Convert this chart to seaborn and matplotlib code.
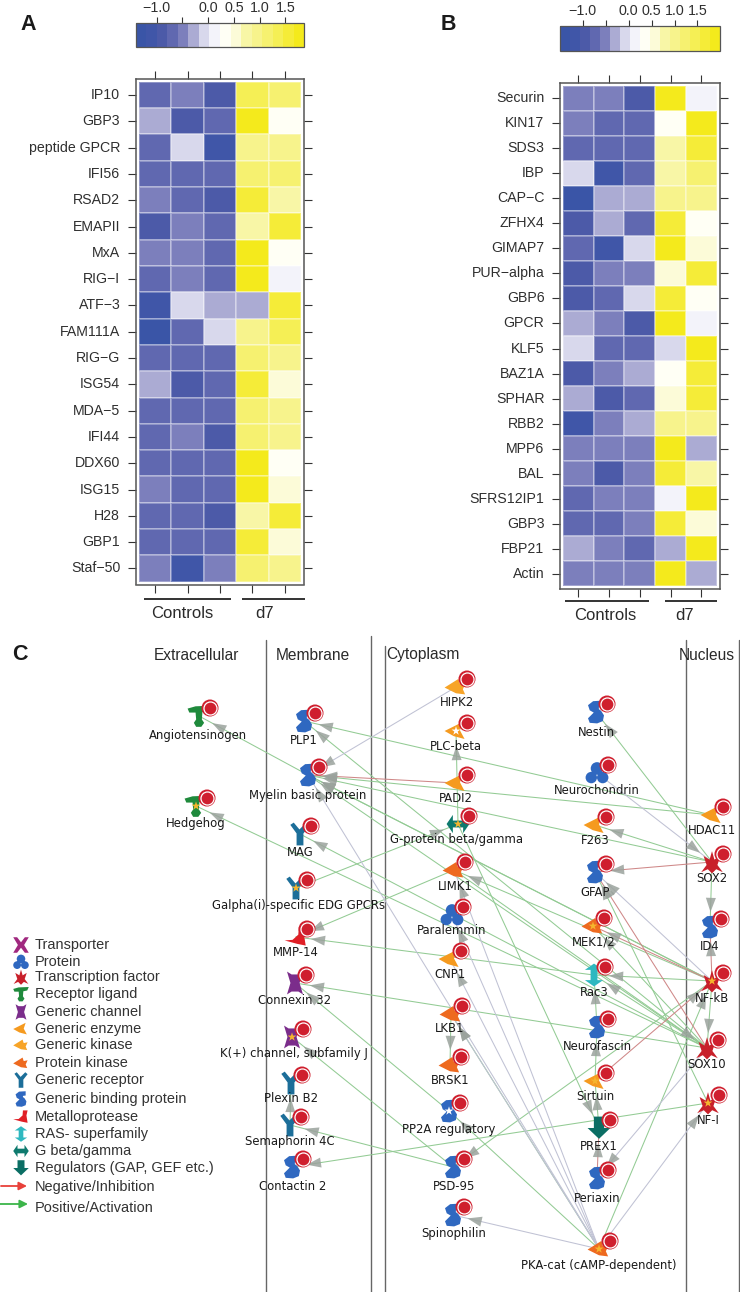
import numpy as np
import pandas as pd
import matplotlib
matplotlib.use('Agg')
import matplotlib.pyplot as plt
from matplotlib.colors import ListedColormap
from matplotlib.path import Path
import seaborn as sns

# panel A
a_genes = ['IP10', 'GBP3', 'peptide GPCR', 'IFI56', 'RSAD2', 'EMAPII', 'MxA', 'RIG−I', 'ATF−3', 'FAM111A',
           'RIG−G', 'ISG54', 'MDA−5', 'IFI44', 'DDX60', 'ISG15', 'H28', 'GBP1', 'Staf−50']
a_controls = [[-0.69, -0.49, -0.90], [-0.28, -0.90, -0.69], [-0.69, -0.08, -1.10], [-0.69, -0.69, -0.69],
              [-0.49, -0.69, -0.90], [-0.90, -0.49, -0.69], [-0.49, -0.49, -0.69], [-0.69, -0.49, -0.69],
              [-1.10, -0.08, -0.28], [-1.31, -0.69, -0.08], [-0.69, -0.69, -0.69], [-0.28, -0.90, -0.69],
              [-0.69, -0.69, -0.69], [-0.69, -0.49, -0.90], [-0.69, -0.69, -0.69], [-0.49, -0.69, -0.69],
              [-0.69, -0.69, -0.90], [-0.69, -0.69, -0.69], [-0.49, -1.10, -0.49]]
a_d7 = [[1.30, 1.25], [1.77, 0.33], [0.95, 0.95], [1.15, 1.15], [1.56, 0.74], [0.74, 1.56], [1.77, 0.33],
        [1.77, 0.13], [-0.28, 1.56], [0.95, 1.36], [1.15, 0.95], [1.56, 0.54], [1.15, 0.95], [1.15, 0.95],
        [1.77, 0.33], [1.77, 0.54], [0.74, 1.56], [1.56, 0.54], [1.15, 0.95]]

# panel B
b_genes = ['Securin', 'KIN17', 'SDS3', 'IBP', 'CAP−C', 'ZFHX4', 'GIMAP7', 'PUR−alpha', 'GBP6', 'GPCR', 'KLF5',
           'BAZ1A', 'SPHAR', 'RBB2', 'MPP6', 'BAL', 'SFRS12IP1', 'GBP3', 'FBP21', 'Actin']
b_controls = [[-0.52, -0.52, -0.96], [-0.52, -0.74, -0.74], [-0.74, -0.74, -0.74], [-0.08, -1.17, -0.74],
              [-1.39, -0.30, -0.30], [-0.96, -0.30, -0.74], [-0.74, -1.17, -0.08], [-0.96, -0.52, -0.52],
              [-0.96, -0.74, -0.08], [-0.30, -0.52, -0.96], [-0.08, -0.74, -0.74], [-0.96, -0.52, -0.30],
              [-0.30, -0.96, -0.74], [-1.17, -0.52, -0.30], [-0.52, -0.52, -0.52], [-0.52, -0.96, -0.52],
              [-0.74, -0.52, -0.52], [-0.74, -0.74, -0.52], [-0.30, -0.52, -0.74], [-0.52, -0.52, -0.52]]
b_d7 = [[1.88, 0.14], [0.35, 1.88], [0.79, 1.66], [0.79, 1.23], [1.01, 1.01], [1.66, 0.35], [1.88, 0.57],
        [0.57, 1.66], [1.66, 0.35], [1.88, 0.14], [-0.08, 1.88], [0.35, 1.66], [0.57, 1.66], [1.01, 1.01],
        [1.88, -0.30], [1.66, 0.79], [0.14, 1.88], [1.66, 0.57], [-0.30, 1.88], [1.88, -0.30]]

sample_names = ['C1', 'C2', 'C3', 'd7a', 'd7b']
level_colors = ['#3a55a7', '#4056a8', '#4c5aa8', '#6068b0', '#7c7fbc', '#ababd3', '#d8d8ec', '#f3f3fa',
                '#fffff5', '#fcfbd8', '#f8f6a6', '#f7f38c', '#f6f170', '#f5ef55', '#f5ec38', '#f4ea1c']
cbar_ticks = [-1.0, -0.5, 0.0, 0.5, 1.0, 1.5]
cbar_labels = ['−1.0', '', '0.0', '0.5', '1.0', '1.5']

# panel C nodes: dot position, label position, icon type
node_names = ['Angiotensinogen', 'Hedgehog', 'PLP1', 'Myelin basic protein', 'MAG', 'Galpha(i)-specific EDG GPCRs',
              'MMP-14', 'Connexin 32', 'K(+) channel, subfamily J', 'Plexin B2', 'Semaphorin 4C', 'Contactin 2',
              'HIPK2', 'PLC-beta', 'PADI2', 'G-protein beta/gamma', 'LIMK1', 'Paralemmin', 'CNP1', 'LKB1', 'BRSK1',
              'PP2A regulatory', 'PSD-95', 'Spinophilin', 'Nestin', 'Neurochondrin', 'F263', 'GFAP', 'MEK1/2',
              'Rac3', 'Neurofascin', 'Sirtuin', 'PREX1', 'Periaxin', 'PKA-cat (cAMP-dependent)', 'HDAC11', 'SOX2',
              'ID4', 'NF-kB', 'SOX10', 'NF-I']
node_x = [210, 207, 315, 319, 311, 307, 307, 306, 303, 302, 301, 303,
          467, 467, 467, 469, 465, 463, 461, 462, 461, 460, 464, 464,
          607, 608, 606, 606, 604, 605, 608, 606, 610, 608, 610, 723, 723, 721, 723, 718, 719]
node_y = [708, 798, 713, 767, 826, 880, 929, 975, 1029, 1075, 1117, 1159,
          679, 723, 775, 816, 862, 907, 951, 1006, 1057, 1103, 1159, 1207,
          704, 765, 817, 864, 918, 967, 1019, 1073, 1120, 1170, 1241, 807, 854, 919, 973, 1040, 1095]
label_x = [198, 196, 304, 308, 300, 298, 296, 295, 294, 291, 290, 293,
           457, 456, 456, 457, 455, 452, 450, 450, 450, 449, 454, 454,
           596, 597, 595, 595, 594, 594, 597, 595, 599, 597, 599, 712, 712, 710, 712, 707, 708]
label_y = [735, 824, 741, 795, 852, 906, 952, 1000, 1054, 1099, 1142, 1187,
           702, 747, 798, 840, 886, 931, 974, 1029, 1080, 1130, 1187, 1234,
           732, 790, 840, 892, 942, 993, 1047, 1097, 1146, 1198, 1265, 830, 879, 946, 998, 1065, 1121]
node_kind = ['ligand', 'ligand', 'binding', 'binding', 'receptor', 'receptor', 'protease', 'channel', 'channel',
             'receptor', 'receptor', 'binding', 'gkinase', 'enzyme', 'enzyme', 'gbg', 'pkinase', 'protein', 'enzyme',
             'pkinase', 'pkinase', 'binding', 'binding', 'binding', 'binding', 'protein', 'enzyme', 'binding',
             'pkinase', 'ras', 'binding', 'enzyme', 'regulator', 'binding', 'pkinase', 'enzyme', 'tf', 'binding',
             'tf', 'tf', 'tf']
starred = ['Hedgehog', 'Galpha(i)-specific EDG GPCRs', 'K(+) channel, subfamily J', 'G-protein beta/gamma', 'MEK1/2',
           'Sirtuin', 'PKA-cat (cAMP-dependent)', 'NF-kB', 'NF-I']
white_starred = ['PLC-beta', 'PP2A regulatory']

PKA = 'PKA-cat (cAMP-dependent)'
MBP = 'Myelin basic protein'
GP = 'G-protein beta/gamma'
edges_pos = [('HDAC11', 'PLP1'), ('HDAC11', MBP), ('SOX10', 'PLP1'), ('SOX2', 'F263'), ('SOX2', MBP),
             ('SOX2', 'ID4'), ('SOX2', 'Nestin'), ('Galpha(i)-specific EDG GPCRs', GP), (GP, 'PLC-beta'),
             ('LIMK1', 'MMP-14'), ('SOX10', 'MAG'), (MBP, 'Angiotensinogen'), ('SOX10', 'Hedgehog'),
             ('Rac3', 'MMP-14'), ('SOX10', 'Connexin 32'), ('PP2A regulatory', 'Connexin 32'),
             ('PSD-95', 'K(+) channel, subfamily J'), ('PSD-95', 'Semaphorin 4C'), ('NF-I', 'Contactin 2'),
             ('Semaphorin 4C', 'Plexin B2'), ('NF-kB', 'PSD-95'), ('LKB1', 'BRSK1'), (PKA, 'LKB1'),
             (PKA, 'PP2A regulatory'), (PKA, 'NF-kB'), (GP, 'PREX1'), ('PREX1', 'Sirtuin'),
             ('Sirtuin', 'Neurofascin'), ('Neurofascin', 'Rac3'), ('NF-kB', 'Rac3'), ('NF-kB', 'SOX10'),
             ('NF-I', 'GFAP'), ('NF-kB', MBP), ('NF-kB', MBP), ('SOX10', MBP), ('SOX10', 'Rac3'),
             ('LIMK1', 'SOX10'), ('SOX10', 'MEK1/2'), ('NF-kB', 'LIMK1')]
edges_neg = [('PADI2', MBP), ('SOX2', 'GFAP'), ('Periaxin', 'PREX1'), ('NF-kB', 'ID4'), ('Sirtuin', 'NF-kB'),
             ('SOX10', 'GFAP'), ('NF-kB', 'MEK1/2')]
edges_neu = [('HIPK2', MBP), ('Neurochondrin', 'SOX2'), (PKA, 'CNP1'), (PKA, 'LKB1'), (PKA, 'LIMK1'),
             (PKA, 'Paralemmin'), (PKA, MBP), (PKA, 'Spinophilin'), (PKA, 'NF-I'), ('SOX10', 'Periaxin'),
             ('NF-kB', 'GFAP')]

legend_names = ['Transporter', 'Protein', 'Transcription factor', 'Receptor ligand', 'Generic channel',
                'Generic enzyme', 'Generic kinase', 'Protein kinase', 'Generic receptor', 'Generic binding protein',
                'Metalloprotease', 'RAS- superfamily', 'G beta/gamma', 'Regulators (GAP, GEF etc.)']
legend_kinds = ['transporter', 'protein', 'tf', 'ligand', 'channel', 'enzyme', 'gkinase', 'pkinase', 'receptor',
                'binding', 'protease', 'ras', 'gbg', 'regulator']
legend_y = [945, 962, 977, 994, 1012, 1029, 1045, 1063, 1080, 1099, 1117, 1134, 1151, 1168]

column_names = ['Extracellular', 'Membrane', 'Cytoplasm', 'Nucleus']
column_x = [196, 313, 423, 707]
column_y = [655, 656, 655, 655]
divider_x = [266, 371, 385, 686, 739]
divider_top = [640, 636, 646, 640, 640]


def poly(pts):
    return Path(np.array(pts + [pts[0]], float), closed=True)


kind_marks = {
    'transporter': poly([(-1, 1), (-.5, 1), (0, .35), (.5, 1), (1, 1), (.4, 0), (1, -1), (.5, -1), (0, -.35),
                         (-.5, -1), (-1, -1), (-.4, 0)]),
    'protein': Path.make_compound_path(Path.circle((-.5, -.4), .5), Path.circle((.5, -.4), .5),
                                       Path.circle((0, .4), .55)),
    'tf': poly([(-.9, -.85), (-.45, -.25), (-.7, .5), (-.2, .2), (0, .9), (.2, .2), (.7, .5), (.45, -.25),
                (.9, -.85), (.35, -.6), (0, -.95), (-.35, -.6)]),
    'ligand': poly([(-1, .65), (-.3, .85), (1, .9), (.8, .45), (.3, .35), (.25, -.3), (.45, -.6), (.2, -.95),
                    (-.25, -.95), (-.45, -.6), (-.25, -.3), (-.3, .3), (-.85, .3)]),
    'channel': poly([(-.7, 1), (-.3, .75), (.3, .75), (.7, 1), (.4, 0), (.7, -1), (.3, -.75), (-.3, -.75),
                     (-.7, -1), (-.4, 0)]),
    'enzyme': poly([(-1, 0), (.6, .8), (.35, .05), (.75, -.7), (-.2, -.45)]),
    'gkinase': poly([(-1, -.05), (.2, .7), (.35, .25), (.85, .35), (.6, -.2), (.8, -.65), (0, -.55)]),
    'pkinase': poly([(-1, -.05), (.2, .7), (.35, .25), (.85, .35), (.6, -.2), (.8, -.65), (0, -.55)]),
    'receptor': poly([(-.85, .8), (-.55, 1), (-.05, .4), (.55, 1), (.85, .75), (.3, .05), (.3, -1), (-.3, -1),
                      (-.3, .05)]),
    'binding': poly([(.6, 1), (-.25, .95), (-.7, .6), (-.55, .15), (-.2, -.05), (-.35, -.2), (-.7, -.55),
                     (-.55, -.95), (.1, -1), (.6, -.8), (.7, -.3), (.45, .1), (.25, .25), (.25, .4), (.6, .45)]),
    'protease': poly([(-1, -.3), (-.3, -.25), (.2, .2), (.25, .85), (.85, .85), (.7, .2), (.85, -.75), (.1, -.6)]),
    'ras': poly([(0, 1), (.8, .45), (.3, .45), (.3, -.45), (.8, -.45), (0, -1), (-.8, -.45), (-.3, -.45),
                 (-.3, .45), (-.8, .45)]),
    'gbg': poly([(1, 0), (.45, .8), (.45, .3), (-.45, .3), (-.45, .8), (-1, 0), (-.45, -.8), (-.45, -.3),
                 (.45, -.3), (.45, -.8)]),
    'regulator': poly([(-.45, 1), (.45, 1), (.45, 0), (1, 0), (0, -.95), (-1, 0), (-.45, 0)]),
}
kind_colors = {'transporter': '#a0287f', 'protein': '#2f68c0', 'tf': '#c8202a', 'ligand': '#1f8a3c',
               'channel': '#7b2d8b', 'enzyme': '#f59a1f', 'gkinase': '#f7a428', 'pkinase': '#ee6a1f',
               'receptor': '#1c6e99', 'binding': '#2f68c0', 'protease': '#e01f26', 'ras': '#2eb8c0',
               'gbg': '#0e7a6e', 'regulator': '#0b6e64'}
edge_colors = {'pos': '#93cb94', 'neg': '#cf8888', 'neu': '#c0c2d4'}

sns.set_theme(style='white')
plt.rcParams['font.family'] = ['Liberation Sans', 'DejaVu Sans']
plt.rcParams['text.color'] = '#2a2a2a'
plt.rcParams['xtick.color'] = '#333333'
plt.rcParams['ytick.color'] = '#333333'
plt.rcParams['xtick.labelcolor'] = '#2f2f2f'
plt.rcParams['ytick.labelcolor'] = '#2f2f2f'

W, H = 740, 1292
fig = plt.figure(figsize=(W / 100, H / 100), dpi=100)
cmap = ListedColormap(level_colors)


def px_axes(l, t, r, b):
    return fig.add_axes([l / W, 1 - b / H, (r - l) / W, (b - t) / H])


def draw_heat(genes, controls, d7, frame, cbar_frame, vmin, vmax):
    vals = np.hstack([np.array(controls), np.array(d7)])
    df = pd.DataFrame(vals, index=genes, columns=sample_names)
    ax = px_axes(*frame)
    cax = px_axes(*cbar_frame)
    sns.heatmap(df, ax=ax, cmap=cmap, vmin=vmin, vmax=vmax, linewidths=0.3, linecolor=(1, 1, 1, 0.3),
                xticklabels=True, yticklabels=True, cbar_ax=cax,
                cbar_kws={'orientation': 'horizontal'})
    ax.set_xlim(-0.11, 5.11)
    ax.set_ylim(len(genes) + 0.11, -0.11)
    ax.set_xlabel('')
    ax.set_ylabel('')
    ax.tick_params(axis='both', which='major', top=True, bottom=True, left=True, right=True, length=5.5, width=0.8,
                   labeltop=False, labelbottom=False, labelright=False, labelleft=True, pad=5.5)
    ax.tick_params(axis='y', labelrotation=0, labelsize=10.2)
    for sp in ax.spines.values():
        sp.set_visible(True)
        sp.set_linewidth(1.1)
        sp.set_color('#555555')
    cb = ax.collections[0].colorbar
    cb.set_ticks(cbar_ticks, labels=cbar_labels)
    cb.ax.minorticks_off()
    cb.outline.set_visible(True)
    cb.outline.set_linewidth(0.9)
    cb.outline.set_edgecolor('#555555')
    cax.xaxis.set_ticks_position('top')
    cax.tick_params(axis='x', top=True, bottom=False, length=4.5, width=0.8, pad=1.2, labelsize=10.3)


# overlay for everything drawn in picture coordinates
net = fig.add_axes([0, 0, 1, 1])
net.set_xlim(0, W)
net.set_ylim(H, 0)
net.axis('off')

draw_heat(a_genes, a_controls, a_d7, (135.5, 79, 304.5, 584.5), (135.5, 22.5, 304.5, 47), -1.41, 1.87)
draw_heat(b_genes, b_controls, b_d7, (559.7, 83, 720, 589), (559.7, 26, 720, 51), -1.5, 1.99)

# panel letters, group brackets
for letter, lx, ly in [('A', 28, 25), ('B', 448, 25), ('C', 20, 654)]:
    net.text(lx, ly, letter, fontsize=15.5, fontweight='bold', ha='center', va='center', color='#1a1a1a')
for x0, x1, y, tx, name in [(144, 231, 599, 182, 'Controls'), (242, 305, 599, 265, 'd7'),
                            (565, 649, 601, 605, 'Controls'), (665, 717, 601, 685, 'd7')]:
    net.plot([x0, x1], [y, y], color='#333333', lw=1.4, solid_capstyle='butt')
    net.text(tx, y + 14.5, name, fontsize=12, ha='center', va='center')

# compartments
for x, top in zip(divider_x, divider_top):
    net.plot([x, x], [top, H], color='#666666', lw=1.0, zorder=1)
for name, x, y in zip(column_names, column_x, column_y):
    net.text(x, y, name, fontsize=11.2, ha='center', va='center', zorder=6)

# network
nodes = pd.DataFrame({'name': node_names, 'dot_x': node_x, 'dot_y': node_y, 'label_x': label_x, 'label_y': label_y,
                      'kind': node_kind})
nodes['icon_x'] = nodes['dot_x'] - 11
nodes['icon_y'] = nodes['dot_y'] + 8
pos = nodes.set_index('name')[['icon_x', 'icon_y']]

for sign, edge_list in [('pos', edges_pos), ('neu', edges_neu), ('neg', edges_neg)]:
    for src, dst in edge_list:
        a = pos.loc[src].values.astype(float)
        b = pos.loc[dst].values.astype(float)
        net.plot([a[0], b[0]], [a[1], b[1]], color=edge_colors[sign], lw=0.75, zorder=2)
        u = (b - a) / np.hypot(*(b - a))
        tip = b - u * 15
        tail = tip - u * 14
        net.annotate('', xy=tip, xytext=tail, zorder=3,
                     arrowprops=dict(arrowstyle='-|>,head_length=0.85,head_width=0.3', fc='#9aa29c', ec='none',
                                     lw=0, shrinkA=0, shrinkB=0, mutation_scale=12, alpha=0.85))

sns.scatterplot(data=nodes, x='icon_x', y='icon_y', hue='kind', style='kind', palette=kind_colors,
                markers={k: kind_marks[k] for k in nodes['kind'].unique()}, s=270, edgecolor='none',
                legend=False, ax=net, zorder=4)
sns.scatterplot(data=nodes, x='dot_x', y='dot_y', color='#cf1f2e', s=150, edgecolor='none', legend=False, ax=net,
                zorder=5)
sns.scatterplot(data=nodes, x='dot_x', y='dot_y', color='#cf1f2e', s=88, edgecolor='white', linewidth=0.9,
                legend=False, ax=net, zorder=5.1)
stars = nodes[nodes['name'].isin(starred)]
sns.scatterplot(data=stars, x='icon_x', y='icon_y', color='#f5b52e', marker='*', s=45, edgecolor='none', legend=False,
                ax=net, zorder=4.5)
stars = nodes[nodes['name'].isin(white_starred)]
sns.scatterplot(data=stars, x='icon_x', y='icon_y', color='white', marker='*', s=45, edgecolor='none', legend=False,
                ax=net, zorder=4.5)
for row in nodes.itertuples():
    net.text(row.label_x, row.label_y, row.name, family='DejaVu Sans', fontsize=8.4, ha='center', va='center',
             color='#1a1a1a', zorder=6)

# legend
leg = pd.DataFrame({'x': 21, 'y': legend_y, 'kind': legend_kinds})
sns.scatterplot(data=leg, x='x', y='y', hue='kind', style='kind', palette=kind_colors,
                markers={k: kind_marks[k] for k in legend_kinds}, s=125, edgecolor='none', legend=False, ax=net,
                zorder=4)
for name, y in zip(legend_names, legend_y):
    net.text(35, y, name, fontsize=10.45, ha='left', va='center', color='#333333')
net.annotate('', xy=(27, 1186), xytext=(1, 1186), arrowprops=dict(arrowstyle='-|>', color='#e8413a', lw=1.3,
                                                                    shrinkA=0, shrinkB=0))
net.annotate('', xy=(28, 1204), xytext=(0, 1204), arrowprops=dict(arrowstyle='-|>', color='#3cb54a', lw=1.3,
                                                                    shrinkA=0, shrinkB=0))
net.text(35, 1187, 'Negative/Inhibition', fontsize=10.45, ha='left', va='center', color='#333333')
net.text(35, 1208, 'Positive/Activation', fontsize=10.45, ha='left', va='center', color='#333333')
net.set_xlim(0, W)
net.set_ylim(H, 0)
net.set_xlabel('')
net.set_ylabel('')

fig.savefig('out.png', dpi=100)
